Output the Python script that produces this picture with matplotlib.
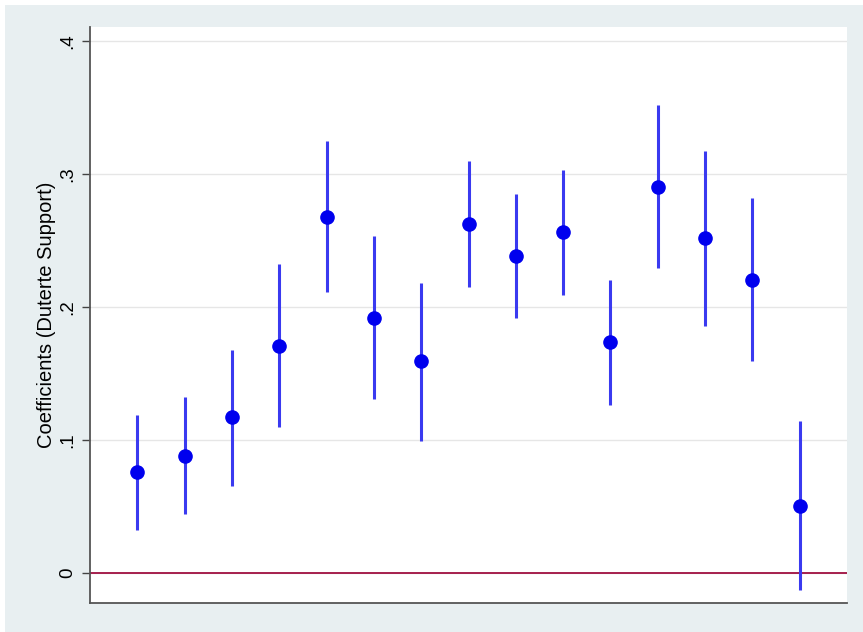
import numpy as np
import matplotlib.pyplot as plt
from matplotlib.patches import Rectangle

plt.rcParams['font.family'] = ['Liberation Sans', 'DejaVu Sans']

# coefficient estimates and 95% CI bounds
pos = list(range(1, 16))
coef = [0.076, 0.088, 0.117, 0.171, 0.268, 0.192, 0.159, 0.262,
        0.238, 0.256, 0.174, 0.290, 0.252, 0.220, 0.050]
ci_hi = [0.119, 0.132, 0.168, 0.232, 0.325, 0.253, 0.218, 0.310,
         0.285, 0.303, 0.220, 0.352, 0.317, 0.282, 0.114]
ci_lo = [0.032, 0.044, 0.065, 0.110, 0.211, 0.131, 0.099, 0.215,
         0.192, 0.209, 0.126, 0.229, 0.186, 0.159, -0.013]
yticks = [0, 0.1, 0.2, 0.3, 0.4]
ylabels = ["0", ".1", ".2", ".3", ".4"]

fig = plt.figure(figsize=(8.63, 6.32), dpi=100)
fig.patch.set_facecolor("white")
# stata style outer panel
fig.add_artist(Rectangle((5 / 863, 0), 1, 1 - 5 / 632, transform=fig.transFigure,
                         facecolor="#e8eff1", edgecolor="none", zorder=-10))

ax = fig.add_axes([90 / 863, 1 - 603 / 632, (847 - 90) / 863, (603 - 27) / 632])
ax.set_facecolor("white")

ax.vlines(pos, ci_lo, ci_hi, color="#3a3af0", lw=2.2, zorder=3)
ax.plot(pos, coef, "o", color="#0000ee", ms=9.5, zorder=4)
ax.axhline(0, color="#a01040", lw=1.3, zorder=2)

ax.set_xlim(0, 16)
ax.set_ylim(-0.0226, 0.4105)
ax.set_yticks(yticks)
ax.set_yticklabels(ylabels, rotation=90, va="center", fontsize=13.5)
ax.set_xticks([])
ax.grid(axis="y", color="#e6e6e6", lw=1)
ax.set_axisbelow(True)
ax.tick_params(axis="y", length=6, width=1, color="#444444", pad=4)
ax.set_ylabel("Coefficients (Duterte Support)", fontsize=14.5, labelpad=2)

for s in ["top", "right"]:
    ax.spines[s].set_visible(False)
for s in ["left", "bottom"]:
    ax.spines[s].set_color("#555555")
    ax.spines[s].set_linewidth(1.3)

fig.savefig("out.png", dpi=100, facecolor=fig.get_facecolor())
